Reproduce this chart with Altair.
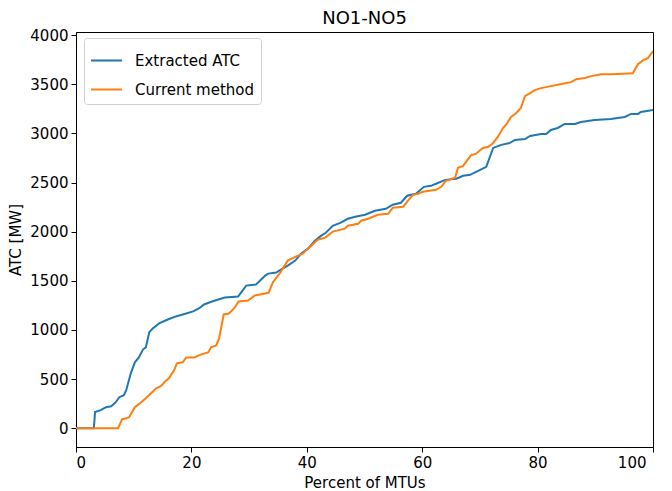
import altair as alt
import pandas as pd

# Extracted ATC (percent of MTUs, MW)
blue_x = [0, 3.1, 3.3, 4.3, 5.2, 6.1, 6.9, 7.5, 8.3, 8.7, 9.5, 10.2, 10.9, 11.6, 12.1, 12.7, 13.3,
          14.4, 15.9, 17.3, 19.1, 20.3, 21.3, 22.2, 23.1, 24.1, 25.8, 28.1, 28.6, 29.5, 31.2, 32.8,
          33.3, 34.7, 35.5, 36.7, 38.0, 39.0, 40.2, 41.4, 42.5, 43.3, 44.5, 45.9, 47.1, 48.4, 50.1,
          51.8, 53.7, 54.9, 56.3, 57.4, 58.9, 60.3, 61.5, 62.4, 64.0, 65.9, 67.1, 68.3, 69.7, 71.1,
          72.3, 73.7, 75.2, 76.1, 77.8, 78.7, 80.6, 81.5, 82.3, 83.5, 84.7, 86.5, 87.5, 89.9, 92.7,
          95.1, 96.2, 97.4, 97.9, 100]
blue_y = [0, 0, 165, 183, 213, 223, 264, 315, 335, 386, 558, 670, 720, 800, 822, 975, 1015,
          1066, 1106, 1137, 1167, 1188, 1218, 1259, 1279, 1299, 1330, 1340, 1380, 1451, 1462, 1553,
          1573, 1583, 1614, 1654, 1705, 1776, 1827, 1908, 1959, 1989, 2060, 2091, 2131, 2152, 2172,
          2213, 2233, 2274, 2294, 2365, 2385, 2456, 2466, 2487, 2527, 2538, 2568, 2578, 2619, 2659,
          2852, 2883, 2903, 2933, 2943, 2974, 2994, 2994, 3035, 3055, 3096, 3096, 3116, 3136, 3147,
          3167, 3198, 3198, 3218, 3238]

# Current method
orange_x = [0, 7.3, 8.0, 8.7, 9.2, 10.2, 11.3, 12.1, 13.0, 13.9, 14.7, 15.3, 16.1, 17.0, 17.5,
            18.5, 19.1, 20.5, 21.7, 22.9, 23.4, 24.3, 24.8, 25.6, 26.5, 27.4, 28.2, 29.8, 31.0,
            32.8, 33.4, 34.1, 35.4, 36.7, 38.1, 39.3, 40.2, 41.9, 43.2, 44.5, 46.6, 47.1, 48.9,
            49.4, 50.6, 52.3, 54.1, 54.9, 56.7, 57.5, 58.4, 59.3, 60.1, 62.4, 63.3, 64.1, 65.7,
            66.2, 67.1, 67.6, 68.5, 69.3, 70.5, 71.4, 72.3, 73.1, 74.0, 74.5, 75.4, 76.3, 77.1,
            77.8, 78.7, 79.5, 80.6, 82.3, 84.1, 85.8, 86.7, 88.2, 89.3, 91.0, 92.7, 96.5, 97.4,
            98.3, 99.1, 100]
orange_y = [0, 0, 91, 101, 112, 213, 264, 305, 355, 406, 426, 467, 507, 589, 660,
            670, 720, 720, 751, 771, 822, 842, 913, 1157, 1167, 1218, 1289, 1299, 1350,
            1370, 1380, 1482, 1583, 1705, 1746, 1776, 1827, 1918, 1939, 2000, 2030, 2060, 2080,
            2111, 2131, 2172, 2182, 2243, 2253, 2314, 2375, 2385, 2406, 2426, 2456, 2517, 2548,
            2649, 2669, 2710, 2781, 2791, 2852, 2862, 2903, 2964, 3055, 3086, 3167, 3208, 3258,
            3380, 3410, 3441, 3461, 3481, 3502, 3522, 3552, 3563, 3583, 3603, 3603, 3613, 3705,
            3745, 3765, 3837]

series_names = ["Extracted ATC", "Current method"]
colors = ["#1f77b4", "#ff7f0e"]
x_ticks = [0, 20, 40, 60, 80, 100]
y_ticks = [0, 500, 1000, 1500, 2000, 2500, 3000, 3500, 4000]

df = pd.concat([
    pd.DataFrame({"x": blue_x, "y": blue_y, "series": series_names[0], "order": range(len(blue_x))}),
    pd.DataFrame({"x": orange_x, "y": orange_y, "series": series_names[1], "order": range(len(orange_x))}),
])

FONT = "DejaVu Sans"

chart = alt.Chart(df).mark_line(strokeWidth=2, clip=True).encode(
    x=alt.X("x:Q", scale=alt.Scale(domain=[0, 100], nice=False, zero=False),
            axis=alt.Axis(title="Percent of MTUs", values=x_ticks, grid=False, format="d",
                          labelOffset={"condition": {"test": "datum.value == 100", "value": -7},
                                       "value": 0})),
    y=alt.Y("y:Q", scale=alt.Scale(domain=[-192, 4032], nice=False, zero=False),
            axis=alt.Axis(title="ATC [MW]", values=y_ticks, grid=False, format="d")),
    color=alt.Color("series:N", scale=alt.Scale(domain=series_names, range=colors),
                    legend=alt.Legend(title=None, orient="none", legendX=8, legendY=6,
                                      symbolType="stroke",
                                      symbolStrokeWidth=2, symbolSize=961, labelFontSize=15,
                                      labelFont=FONT, labelColor="black", labelOffset=12,
                                      strokeColor="#d0d0d0", cornerRadius=3, fillColor="white",
                                      padding=6, rowPadding=4)),
    order="order:Q",
).properties(
    width=577, height=415,
    title=alt.TitleParams("NO1-NO5", font=FONT, fontSize=18, fontWeight="normal", color="black",
                          frame="group", offset=0),
    autosize=alt.AutoSizeParams(type="none"),
    padding={"left": 68, "top": 24, "right": 11, "bottom": 44},
).configure_axis(
    labelFont=FONT, titleFont=FONT, labelFontSize=15, titleFontSize=15,
    labelColor="black", titleColor="black", titleFontWeight="normal",
    domainColor="black", tickColor="black", tickSize=5, domainWidth=1, labelPadding=3,
).configure_axisX(titlePadding=5).configure_axisY(titlePadding=6).configure_view(
    stroke="black", strokeWidth=1
)

chart.save("out.html", embed_options={"renderer": "svg", "actions": False})
